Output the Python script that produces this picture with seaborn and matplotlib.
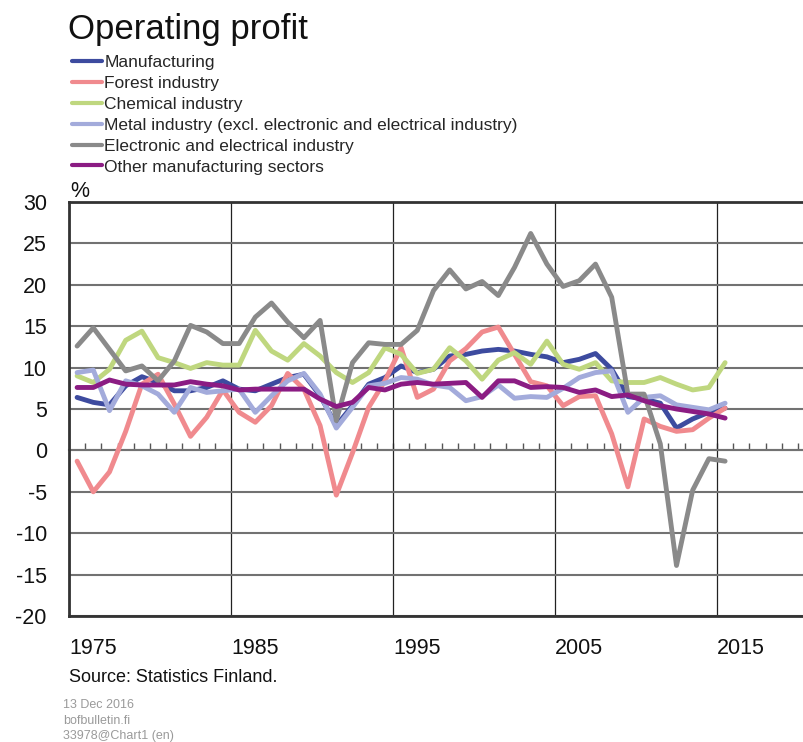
import matplotlib
matplotlib.use("Agg")
import matplotlib.pyplot as plt
import matplotlib.transforms as mtransforms
import numpy as np
import pandas as pd
import seaborn as sns

# ---------------- data ----------------
years = list(range(1975, 2016))

series_names = [
    "Manufacturing",
    "Forest industry",
    "Chemical industry",
    "Metal industry (excl. electronic and electrical industry)",
    "Electronic and electrical industry",
    "Other manufacturing sectors",
]

manufacturing = [6.4, 5.8, 5.5, 7.8, 8.9, 8.2, 7.2, 7.2, 7.6, 8.4,
                 7.4, 7.2, 8.0, 8.8, 9.2, 6.6, 3.0, 5.4, 8.0, 8.8,
                 10.2, 9.4, 9.8, 11.4, 11.6, 12.0, 12.2, 12.0, 11.6, 11.3,
                 10.6, 11.0, 11.7, 9.8, 6.5, 6.2, 5.7, 2.7, 3.8, 4.6, 5.1]

forest = [-1.3, -5.0, -2.6, 2.3, 8.0, 9.2, 5.6, 1.7, 4.0, 7.3,
          4.6, 3.4, 5.4, 9.3, 7.4, 3.0, -5.4, -0.3, 5.2, 8.4,
          12.4, 6.4, 7.4, 10.8, 12.3, 14.3, 14.9, 11.6, 8.3, 7.8,
          5.4, 6.5, 6.6, 2.0, -4.4, 3.8, 2.9, 2.3, 2.5, 3.9, 5.1]

chemical = [9.0, 8.2, 9.8, 13.3, 14.4, 11.2, 10.6, 9.9, 10.6, 10.3,
            10.3, 14.5, 12.0, 10.9, 12.9, 11.4, 9.4, 8.2, 9.4, 12.4,
            11.6, 9.3, 9.8, 12.4, 10.8, 8.6, 10.9, 11.8, 10.4, 13.2,
            10.4, 9.8, 10.6, 8.4, 8.2, 8.2, 8.8, 8.0, 7.3, 7.6, 10.6]

metal = [9.4, 9.7, 4.8, 8.4, 7.8, 6.8, 4.6, 7.6, 7.0, 7.2,
         7.4, 4.6, 6.6, 8.4, 9.3, 6.8, 2.7, 5.2, 7.8, 8.1,
         8.8, 8.6, 7.9, 7.6, 6.0, 6.5, 7.9, 6.3, 6.5, 6.4,
         7.5, 8.8, 9.4, 9.6, 4.6, 6.4, 6.6, 5.5, 5.2, 4.9, 5.7]

electronic = [12.6, 14.8, 12.2, 9.6, 10.2, 8.4, 10.8, 15.1, 14.3, 12.9,
              12.9, 16.1, 17.8, 15.5, 13.6, 15.7, 3.6, 10.6, 13.0, 12.8,
              12.8, 14.5, 19.3, 21.8, 19.5, 20.4, 18.7, 22.1, 26.2, 22.5,
              19.8, 20.5, 22.5, 18.5, 6.8, 6.8, 0.8, -13.9, -4.8, -1.0, -1.3]

other = [7.6, 7.6, 8.5, 8.0, 7.9, 7.9, 7.9, 8.3, 8.0, 7.8,
         7.3, 7.4, 7.4, 7.4, 7.4, 6.2, 5.3, 5.8, 7.6, 7.3,
         8.0, 8.2, 8.0, 8.1, 8.2, 6.4, 8.4, 8.4, 7.6, 7.7,
         7.6, 7.0, 7.3, 6.5, 6.7, 6.0, 5.4, 5.0, 4.7, 4.4, 3.9]

colors = ["#3D4B9F", "#F08A8E", "#BFD77F", "#A3ABDB", "#8A8A8A", "#8B1C83"]

x_tick_labels = ["1975", "1985", "1995", "2005", "2015"]
y_ticks = [-20, -15, -10, -5, 0, 5, 10, 15, 20, 25, 30]

# ---------------- build frame ----------------
values = [manufacturing, forest, chemical, metal, electronic, other]
df = pd.DataFrame({"year": years})
for name, vals in zip(series_names, values):
    df[name] = vals
long = df.melt(id_vars="year", var_name="series", value_name="value")

# ---------------- style ----------------
sns.set_theme(style="white")
plt.rcParams["font.family"] = ["Liberation Sans", "DejaVu Sans"]
plt.rcParams["axes.unicode_minus"] = False

W, H = 804, 742
fig = plt.figure(figsize=(W / 100, H / 100), dpi=100)
ax_left, ax_right, ax_top, ax_bot = 69, 804, 202, 616
ax = fig.add_axes([ax_left / W, 1 - ax_bot / H, (ax_right - ax_left) / W,
                   (ax_bot - ax_top) / H])

sns.lineplot(data=long, x="year", y="value", hue="series",
             hue_order=series_names, palette=colors, linewidth=3.5,
             ax=ax, legend=True)

px_per_year = 16.2
x0 = 1974.5
ax.set_xlim(x0, x0 + (ax_right - ax_left) / px_per_year)
ax.set_ylim(-20, 30)
ax.set_xlabel("")
ax.set_ylabel("")

# major x ticks at decade boundaries, labels left-aligned after them
xt = [int(s) - 0.5 for s in x_tick_labels]
ax.set_xticks(xt)
ax.set_xticklabels(x_tick_labels)
offset = mtransforms.ScaledTranslation(4 / 72, 0, fig.dpi_scale_trans)
for lab in ax.get_xticklabels():
    lab.set_horizontalalignment("left")
    lab.set_transform(lab.get_transform() + offset)
ax.set_yticks(y_ticks)
ax.tick_params(axis="both", length=0, labelsize=15.5, colors="#111111")
ax.tick_params(axis="x", pad=16)
ax.tick_params(axis="y", pad=16)

ax.grid(axis="y", color="#727272", linewidth=1.5)
ax.grid(axis="x", color="#222222", linewidth=0.9)
ax.set_axisbelow(True)

for side in ["left", "top", "bottom"]:
    ax.spines[side].set_color("#333333")
    ax.spines[side].set_linewidth(2.0)
ax.spines["right"].set_visible(False)

# zero line with yearly ticks pointing up
zero_frac = (0 - (-20)) / 50
sec = ax.secondary_xaxis(zero_frac)
sec.set_xticks([y + 0.5 for y in range(1975, 2020)])
sec.tick_params(direction="in", length=5, width=1.0, color="#555555",
                labelbottom=False, labeltop=False)
for s in sec.spines.values():
    s.set_color("#888888")
    s.set_linewidth(1.5)

# legend
handles, labels = ax.get_legend_handles_labels()
ax.get_legend().remove()
for h in handles:
    h.set_linewidth(3.0)
fig.legend(handles, labels, loc="upper left",
           bbox_to_anchor=(72 / W, 1 - 55 / H), frameon=False,
           fontsize=12.5, handlelength=1.75, handletextpad=0.12,
           labelspacing=0.33, borderpad=0, borderaxespad=0)

# texts
fig.text(68 / W, 1 - 39 / H, "Operating profit", fontsize=25,
         va="baseline", ha="left", color="#111111")
fig.text(70 / W, 1 - 197 / H, "%", fontsize=15.5, va="baseline",
         ha="left", color="#111111")
fig.text(69 / W, 1 - 682 / H, "Source: Statistics Finland.", fontsize=13,
         va="baseline", ha="left", color="#111111")
for i, t in enumerate(["13 Dec 2016", "bofbulletin.fi", "33978@Chart1 (en)"]):
    fig.text(63 / W, 1 - (708 + 15.5 * i) / H, t, fontsize=9,
             va="baseline", ha="left", color="#9a9a9a")

fig.savefig("out.png", dpi=100)
